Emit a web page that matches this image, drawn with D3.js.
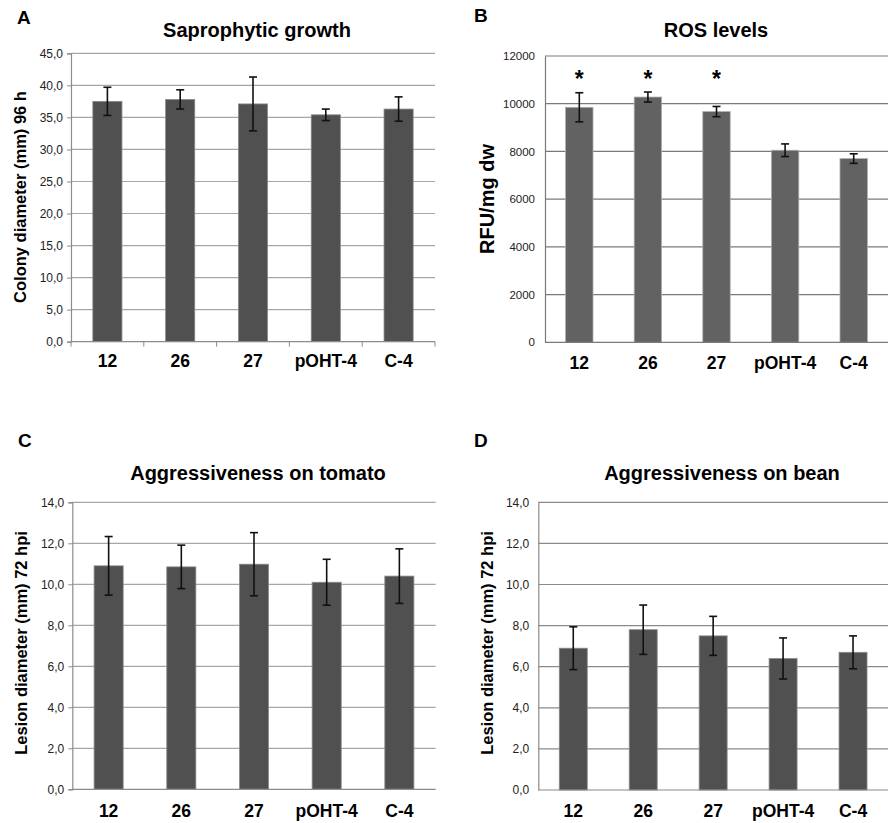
<!DOCTYPE html>
<html>
<head>
<meta charset="utf-8">
<script src="https://d3js.org/d3.v7.min.js"></script>
<style>
  body { margin: 0; background: #fff; }
  svg { display: block; font-family: "Liberation Sans", Arial, sans-serif; }
</style>
</head>
<body>
<script>
// shared categories
const strains = ["12", "26", "27", "pOHT-4", "C-4"];

// A - saprophytic growth
const growthMean = [37.5, 37.8, 37.1, 35.4, 36.3];
const growthErr  = [2.2, 1.5, 4.2, 0.9, 1.9];
const growthTicks = [0, 5, 10, 15, 20, 25, 30, 35, 40, 45];

// B - ROS levels
const rosMean = [9850, 10280, 9670, 8050, 7700];
const rosErr  = [610, 210, 215, 265, 200];
const rosTicks = [0, 2000, 4000, 6000, 8000, 10000, 12000];
const rosStar = [true, true, true, false, false];

// C - tomato
const tomatoMean = [10.9, 10.85, 10.98, 10.1, 10.4];
const tomatoErr  = [1.43, 1.06, 1.54, 1.12, 1.33];

// D - bean
const beanMean = [6.9, 7.8, 7.5, 6.4, 6.7];
const beanErr  = [1.04, 1.2, 0.95, 1.0, 0.8];
const lesionTicks = [0, 2, 4, 6, 8, 10, 12, 14];

const svg = d3.select("body").append("svg")
    .attr("width", 888)
    .attr("height", 823);

const comma1 = d => d3.format(".1f")(d).replace(".", ",");

function panel(o) {
  const g = svg.append("g");
  const y = d3.scaleLinear().domain([0, d3.max(o.ticks)]).range([o.bottom, o.top]);
  const x = d3.scaleBand().domain(strains).range([o.left, o.right]).paddingInner(0.6).paddingOuter(0.3);
  const cx = i => x(strains[i]) + x.bandwidth() / 2;

  // letter + title
  g.append("text").attr("x", o.letterX).attr("y", o.letterY)
    .attr("font-size", 19).attr("font-weight", "bold").text(o.letter);
  g.append("text").attr("x", o.titleX).attr("y", o.titleY)
    .attr("text-anchor", "middle").attr("font-size", 20).attr("font-weight", "bold").text(o.title);

  // gridlines
  g.selectAll(".grid").data(o.ticks.filter(t => t > 0)).join("line")
    .attr("x1", o.left).attr("x2", o.right)
    .attr("y1", d => y(d)).attr("y2", d => y(d))
    .attr("stroke", o.gridColor).attr("stroke-width", 1.2);

  // y axis
  const yAxis = d3.axisLeft(y).tickValues(o.ticks).tickFormat(o.fmt).tickSize(o.yTick).tickPadding(o.yPad);
  const ya = g.append("g").attr("transform", `translate(${o.left},0)`).call(yAxis);
  ya.select(".domain").attr("stroke", o.axisColor).attr("stroke-width", 1.2);
  ya.selectAll(".tick line").attr("stroke", o.axisColor);
  ya.selectAll("text").attr("font-size", o.tickFont).attr("fill", "#222")
    .attr("font-family", "Liberation Sans, Arial, sans-serif");

  // bars
  g.selectAll(".bar").data(o.mean).join("rect")
    .attr("x", (d, i) => x(strains[i]))
    .attr("y", d => y(d))
    .attr("width", x.bandwidth())
    .attr("height", d => o.bottom - y(d))
    .attr("fill", o.barColor)
    .attr("stroke", o.barEdge).attr("stroke-width", 0.8);

  // x axis
  g.append("line").attr("x1", o.left).attr("x2", o.right)
    .attr("y1", o.bottom).attr("y2", o.bottom)
    .attr("stroke", o.axisColor).attr("stroke-width", 1.2);
  if (o.xTicks) {
    const step = x.step();
    g.selectAll(".xt").data(d3.range(strains.length + 1)).join("line")
      .attr("x1", i => o.left + i * step).attr("x2", i => o.left + i * step)
      .attr("y1", o.bottom).attr("y2", o.bottom + 5)
      .attr("stroke", o.axisColor);
  }
  g.selectAll(".cat").data(strains).join("text")
    .attr("x", (d, i) => cx(i))
    .attr("y", o.catY)
    .attr("text-anchor", "middle").attr("font-size", 17.5).attr("font-weight", "bold")
    .text(d => d);

  // error bars
  const eb = g.selectAll(".err").data(o.mean).join("g");
  eb.append("line").attr("x1", (d, i) => cx(i)).attr("x2", (d, i) => cx(i))
    .attr("y1", (d, i) => y(d + o.err[i])).attr("y2", (d, i) => y(d - o.err[i]));
  eb.append("line").attr("x1", (d, i) => cx(i) - 4).attr("x2", (d, i) => cx(i) + 4)
    .attr("y1", (d, i) => y(d + o.err[i])).attr("y2", (d, i) => y(d + o.err[i]));
  eb.append("line").attr("x1", (d, i) => cx(i) - 4).attr("x2", (d, i) => cx(i) + 4)
    .attr("y1", (d, i) => y(d - o.err[i])).attr("y2", (d, i) => y(d - o.err[i]));
  eb.selectAll("line").attr("stroke", "#111").attr("stroke-width", 1.6);

  // significance stars
  if (o.stars) {
    g.selectAll(".star").data(o.stars.map((s, i) => ({ s, i })).filter(d => d.s)).join("text")
      .attr("x", d => cx(d.i))
      .attr("y", 87)
      .attr("text-anchor", "middle").attr("font-size", 23).attr("font-weight", "bold")
      .text("*");
  }

  // y title
  g.append("text")
    .attr("transform", `translate(${o.ytX},${o.ytY}) rotate(-90)`)
    .attr("text-anchor", "middle").attr("font-size", o.ytFont).attr("font-weight", "bold")
    .text(o.yTitle);
}

panel({
  letter: "A", letterX: 17, letterY: 24,
  title: "Saprophytic growth", titleX: 257, titleY: 37,
  left: 71, right: 435, top: 53.3, bottom: 341.7,
  ticks: growthTicks, fmt: comma1, mean: growthMean, err: growthErr,
  gridColor: "#a6a6a6", axisColor: "#8c8c8c", barColor: "#505050", barEdge: "#8a8a8a",
  yTick: 4, yPad: 4, tickFont: 12, xTicks: true, catY: 367,
  yTitle: "Colony diameter (mm) 96 h", ytX: 26, ytY: 197, ytFont: 16.5
});

panel({
  letter: "B", letterX: 474, letterY: 22,
  title: "ROS levels", titleX: 716, titleY: 37,
  left: 545, right: 888, top: 56, bottom: 342.3,
  ticks: rosTicks, fmt: d3.format("d"), mean: rosMean, err: rosErr, stars: rosStar,
  gridColor: "#7a7a7a", axisColor: "#7a7a7a", barColor: "#626262", barEdge: "#b0b0b0",
  yTick: 0, yPad: 10, tickFont: 11.5, xTicks: false, catY: 369,
  yTitle: "RFU/mg dw", ytX: 494, ytY: 199, ytFont: 20
});

panel({
  letter: "C", letterX: 18, letterY: 447,
  title: "Aggressiveness on tomato", titleX: 258, titleY: 480,
  left: 72.3, right: 435.7, top: 502.3, bottom: 789.3,
  ticks: lesionTicks, fmt: comma1, mean: tomatoMean, err: tomatoErr,
  gridColor: "#a6a6a6", axisColor: "#8c8c8c", barColor: "#505050", barEdge: "#8a8a8a",
  yTick: 4, yPad: 4, tickFont: 12, xTicks: false, catY: 817,
  yTitle: "Lesion diameter (mm) 72 hpi", ytX: 27, ytY: 643, ytFont: 16.5
});

panel({
  letter: "D", letterX: 474, letterY: 447,
  title: "Aggressiveness on bean", titleX: 722, titleY: 480,
  left: 538.3, right: 888, top: 502.3, bottom: 790,
  ticks: lesionTicks, fmt: comma1, mean: beanMean, err: beanErr,
  gridColor: "#8a8a8a", axisColor: "#8a8a8a", barColor: "#505050", barEdge: "#8a8a8a",
  yTick: 0, yPad: 9, tickFont: 12, xTicks: false, catY: 817,
  yTitle: "Lesion diameter (mm) 72 hpi", ytX: 493, ytY: 643, ytFont: 16.5
});
</script>
</body>
</html>
